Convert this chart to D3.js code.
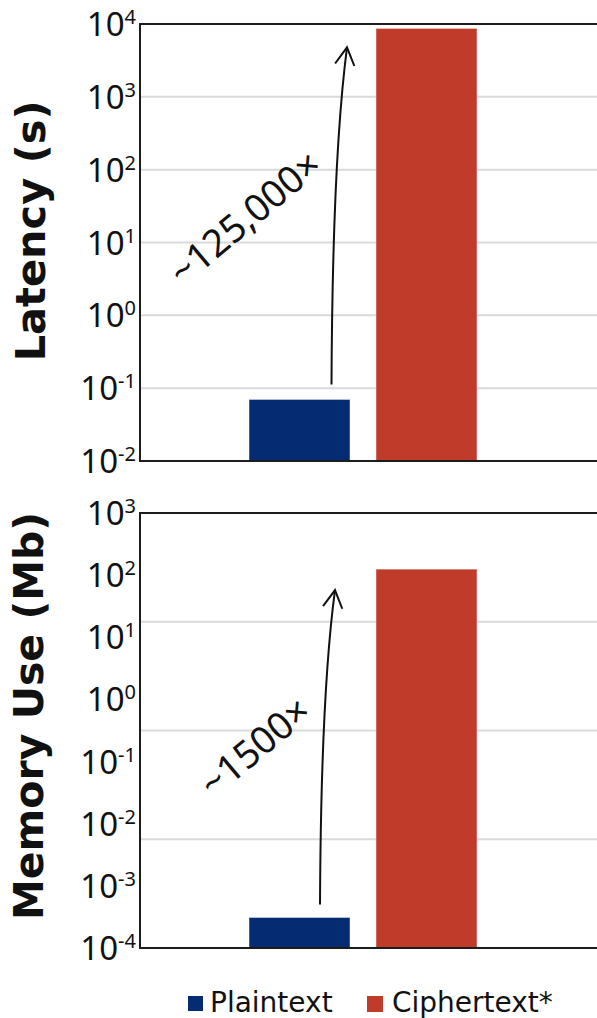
<!DOCTYPE html>
<html>
<head>
<meta charset="utf-8">
<script src="https://cdn.jsdelivr.net/npm/d3@7"></script>
<style>
  html, body { margin: 0; padding: 0; background: #ffffff; }
  svg { display: block; }
</style>
</head>
<body>
<svg id="chart" width="597" height="1018"></svg>
<script>
// Categories and measured values
const categories = ["Plaintext", "Ciphertext*"];
const latencySeconds = [0.07, 8700];
const memoryMb = [0.00031, 125];

// Tick labels (powers of ten)
const latencyExponents = [4, 3, 2, 1, 0, -1, -2];
const memoryExponents = [3, 2, 1, 0, -1, -2, -3, -4];

// Annotation labels
const latencyRatioLabel = "~125,000×";
const memoryRatioLabel = "~1500×";

const colors = { "Plaintext": "#052b72", "Ciphertext*": "#c13b2b" };

const svg = d3.select("#chart");

const x = d3.scaleBand()
  .domain(categories)
  .range([236, 490])
  .paddingInner(0.2047)
  .paddingOuter(0.1024);

const plotLeft = 140;
const plotRight = 640;

function drawPanel(cfg) {
  const g = svg.append("g");
  const y = d3.scaleLog()
    .domain([Math.pow(10, d3.min(cfg.exponents)), Math.pow(10, d3.max(cfg.exponents))])
    .range([cfg.bottom, cfg.top]);

  // gridlines
  const grid = cfg.gridValues(y);
  g.selectAll("line.grid").data(grid).join("line")
    .attr("class", "grid")
    .attr("x1", plotLeft).attr("x2", plotRight)
    .attr("y1", d => y(d)).attr("y2", d => y(d))
    .attr("stroke", "#d9d9d9").attr("stroke-width", 2);

  // bars
  g.selectAll("rect.bar").data(categories.map((c, i) => ({ c, v: cfg.values[i] })))
    .join("rect")
    .attr("class", "bar")
    .attr("x", d => x(d.c))
    .attr("width", x.bandwidth())
    .attr("y", d => y(d.v))
    .attr("height", d => y.range()[0] - y(d.v))
    .attr("fill", d => colors[d.c])
    .attr("stroke", "rgba(255,255,255,0.45)")
    .attr("stroke-width", 1);

  // frame
  g.append("rect")
    .attr("x", plotLeft).attr("y", cfg.top)
    .attr("width", plotRight - plotLeft).attr("height", cfg.bottom - cfg.top)
    .attr("fill", "none").attr("stroke", "#1c1c1c").attr("stroke-width", 2);

  // tick labels 10^n
  const labels = g.selectAll("text.tick").data(cfg.exponents).join("text")
    .attr("class", "tick")
    .attr("x", 136)
    .attr("y", d => y(Math.pow(10, d)) + 12)
    .attr("text-anchor", "end")
    .attr("font-family", "'Noto Sans', sans-serif")
    .attr("fill", "#111");
  labels.append("tspan").attr("font-size", 33).text("10");
  labels.append("tspan").attr("font-size", 20).attr("dy", -12)
    .text(d => d < 0 ? "-" + Math.abs(d) : String(d));

  // axis title
  g.append("text")
    .attr("transform", `translate(${cfg.titleX},${cfg.titleY}) rotate(-90)`)
    .attr("text-anchor", "middle")
    .attr("font-family", "'DejaVu Sans', sans-serif")
    .attr("font-weight", "bold")
    .attr("font-size", cfg.titleSize)
    .attr("fill", "#111")
    .text(cfg.title);

  // curved arrow from the plaintext bar up to the ciphertext bar
  const x0 = x(categories[0]) + cfg.arrowStartDx;
  const y0 = y(cfg.values[0]) - cfg.arrowStartGap;
  const x2 = x(categories[1]) - cfg.arrowEndDx;
  const y2 = y(cfg.values[1]) + cfg.arrowEndGap;
  const cx = x0 + 1;
  const cy = y0 + 0.67 * (y2 - y0);
  const p = d3.path();
  p.moveTo(x0, y0);
  p.quadraticCurveTo(cx, cy, x2, y2);
  g.append("path").attr("d", p.toString())
    .attr("fill", "none").attr("stroke", "#111").attr("stroke-width", 2);

  const ang = Math.atan2(cy - y2, cx - x2);
  const armLen = 20, spread = 29 * Math.PI / 180;
  const head = d3.path();
  head.moveTo(x2 + armLen * Math.cos(ang - spread), y2 + armLen * Math.sin(ang - spread));
  head.lineTo(x2, y2);
  head.lineTo(x2 + armLen * Math.cos(ang + spread), y2 + armLen * Math.sin(ang + spread));
  g.append("path").attr("d", head.toString())
    .attr("fill", "none").attr("stroke", "#111").attr("stroke-width", 2)
    .attr("stroke-linejoin", "miter");

  // ratio label
  g.append("text")
    .attr("transform", `translate(${cfg.labelX},${cfg.labelY}) rotate(-40)`)
    .attr("text-anchor", "middle")
    .attr("dy", "0.35em")
    .attr("font-family", "'Noto Sans', sans-serif")
    .attr("font-size", 38)
    .attr("fill", "#111")
    .text(cfg.ratioLabel);
}

drawPanel({
  top: 24, bottom: 461,
  exponents: latencyExponents,
  values: latencySeconds,
  gridValues: y => latencyExponents.slice(1, -1).map(e => Math.pow(10, e)),
  title: "Latency (s)", titleX: 45, titleY: 231, titleSize: 41.5,
  arrowStartDx: 82.5, arrowStartGap: 15, arrowEndDx: 29, arrowEndGap: 19,
  ratioLabel: latencyRatioLabel, labelX: 245, labelY: 218
});

drawPanel({
  top: 513, bottom: 948,
  exponents: memoryExponents,
  values: memoryMb,
  // gridlines split the plot height into quarters
  gridValues: y => [1, 2, 3].map(i => y.invert(y.range()[1] + i * (y.range()[0] - y.range()[1]) / 4)),
  title: "Memory Use (Mb)", titleX: 43, titleY: 716, titleSize: 41,
  arrowStartDx: 71, arrowStartGap: 13, arrowEndDx: 41, arrowEndGap: 21,
  ratioLabel: memoryRatioLabel, labelX: 255, labelY: 747
});

// legend
const legend = svg.append("g");
const legendItems = [
  { c: categories[0], sx: 188, size: 15, tx: 210 },
  { c: categories[1], sx: 367, size: 16, tx: 392 }
];
legendItems.forEach(it => {
  legend.append("rect")
    .attr("x", it.sx).attr("y", 996)
    .attr("width", it.size).attr("height", it.size)
    .attr("fill", colors[it.c]);
  legend.append("text")
    .attr("x", it.tx).attr("y", 1012)
    .attr("font-family", "'DejaVu Sans', sans-serif")
    .attr("font-size", 28)
    .attr("fill", "#111")
    .text(it.c);
});
</script>
</body>
</html>
